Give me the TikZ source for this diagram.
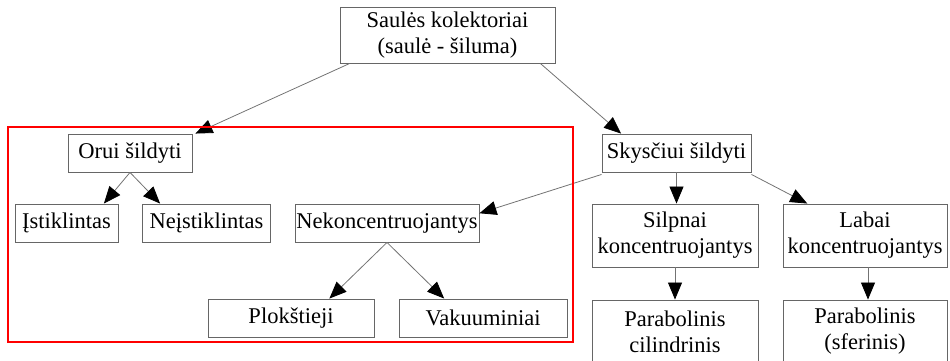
\documentclass[tikz,border=0pt]{standalone}
\usepackage{fontspec}
\setmainfont{Liberation Serif}
\usetikzlibrary{arrows.meta,calc}
\tikzset{
  box/.style={draw=black!60, line width=0.9pt, rectangle, inner sep=0pt,
    align=center, font=\fontsize{22.5}{26}\selectfont, text=black},
  link/.style={draw=black!55, line width=0.8pt,
    -{Triangle[length=17pt,width=14pt,color=black]}},
  frame/.style={draw=red, line width=2.4pt}
}
\begin{document}
\begin{tikzpicture}[x=1pt,y=-1pt]
  \useasboundingbox (0,0) rectangle (950,361);
  % root
  \node[box, minimum width=215pt, minimum height=56pt] (top) at (447.5,35)
    {Saulės kolektoriai\\(saulė - šiluma)};
  % air heating branch
  \node[box, minimum width=124pt, minimum height=38pt] (orui) at (130,153) {Orui šildyti};
  \node[box, minimum width=103pt, minimum height=38pt] (ist) at (66.5,223) {Įstiklintas};
  \node[box, minimum width=128pt, minimum height=38pt] (neist) at (206.5,223) {Neįstiklintas};
  \node[box, minimum width=184pt, minimum height=38pt] (nekon) at (387,223) {Nekoncentruojantys};
  \node[box, minimum width=166pt, minimum height=38pt] (plok) at (291,318) {Plokštieji};
  \node[box, minimum width=168pt, minimum height=38pt] (vak) at (483,318) {Vakuuminiai};
  % liquid heating branch
  \node[box, minimum width=149pt, minimum height=38pt] (skys) at (676.5,153) {Skysčiui šildyti};
  \node[box, minimum width=166pt, minimum height=63pt] (silp) at (675,235.5) {Silpnai\\koncentruojantys};
  \node[box, minimum width=164pt, minimum height=63pt] (labai) at (865,235.5) {Labai\\koncentruojantys};
  \node[box, minimum width=166pt, minimum height=63pt] (pcil) at (675,331.5) {Parabolinis\\cilindrinis};
  \node[box, minimum width=164pt, minimum height=63pt] (psfer) at (865,331.5) {Parabolinis\\(sferinis)};
  % connectors
  \draw[link] ($(top.south west)!0.047!(top.south east)$) -- ([xshift=3pt]orui.north east);
  \draw[link] ($(top.south west)!0.93!(top.south east)$) -- ($(skys.north west)!0.13!(skys.north east)$);
  \draw[link] (orui.south) -- ($(ist.north west)!0.86!(ist.north east)$);
  \draw[link] (orui.south) -- ($(neist.north west)!0.14!(neist.north east)$);
  \draw[link] ([yshift=-2pt]skys.south west) -- ($(nekon.north east)!0.25!(nekon.south east)$);
  \draw[link] (nekon.south) -- ($(plok.north west)!0.73!(plok.north east)$);
  \draw[link] (nekon.south) -- ($(vak.north west)!0.27!(vak.north east)$);
  \draw[link] (skys.south) -- (skys.south |- silp.north);
  \draw[link] ([yshift=-2pt]skys.south east) -- ($(labai.north west)!0.15!(labai.north east)$);
  \draw[link] (silp.south) -- (pcil.north);
  \draw[link] ([xshift=3pt]labai.south) -- ([xshift=3pt]psfer.north);
  % highlight frame round the air heating group
  \draw[frame] (8,127) rectangle (573,342);
\end{tikzpicture}
\end{document}
